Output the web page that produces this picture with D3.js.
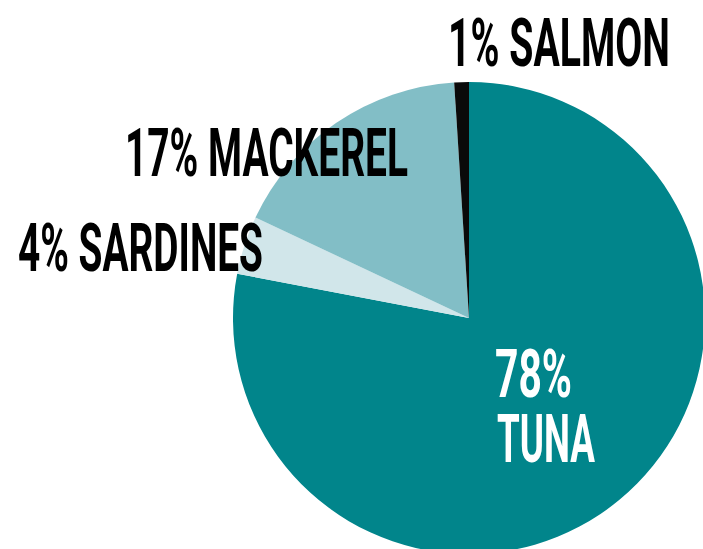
<!DOCTYPE html>
<html>
<head>
<meta charset="utf-8">
<script src="https://cdn.jsdelivr.net/npm/d3@7"></script>
<style>
  body { margin: 0; background: #fff; }
  svg { display: block; }
</style>
</head>
<body>
<div id="container"></div>
<script>
// Chart data
const fish = ["TUNA", "SARDINES", "MACKEREL", "SALMON"];
const shares = [78, 4, 17, 1];
const colors = ["#01858b", "#d1e6ea", "#82bec6", "#0a0a0a"];

// Label placement (baseline left x, baseline y, target width) - tuned by eye
const labelLayout = [
  { lines: [{ x: 495, y: 397, w: 77 }, { x: 497, y: 462, w: 98 }], fill: "#fff" },
  { lines: [{ x: 18, y: 271, w: 245 }], fill: "#000" },
  { lines: [{ x: 125, y: 176, w: 283 }], fill: "#000" },
  { lines: [{ x: 448, y: 66, w: 222 }], fill: "#000" }
];

const width = 703;
const height = 549;
const cx = 469, cy = 318, radius = 236;

const svg = d3.create("svg")
  .attr("width", width)
  .attr("height", height);
container.append(svg.node());

const pie = d3.pie().sort(null).value(d => d)(shares);
const arc = d3.arc().innerRadius(0).outerRadius(radius);

svg.append("g")
  .attr("transform", `translate(${cx},${cy})`)
  .selectAll("path")
  .data(pie)
  .join("path")
  .attr("d", arc)
  .attr("fill", (d, i) => colors[i]);

// Labels: first slice gets two lines (value / name), others one line
fish.forEach((name, i) => {
  const texts = i === 0 ? [shares[i] + "%", name] : [shares[i] + "% " + name];
  labelLayout[i].lines.forEach((p, j) => {
    svg.append("text")
      .attr("x", p.x)
      .attr("y", p.y)
      .attr("textLength", p.w)
      .attr("lengthAdjust", "spacingAndGlyphs")
      .style("font-family", "Roboto, 'Open Sans', sans-serif")
      .style("font-weight", "700")
      .style("font-size", "66px")
      .style("fill", labelLayout[i].fill)
      .text(texts[j]);
  });
});
</script>
</body>
</html>
